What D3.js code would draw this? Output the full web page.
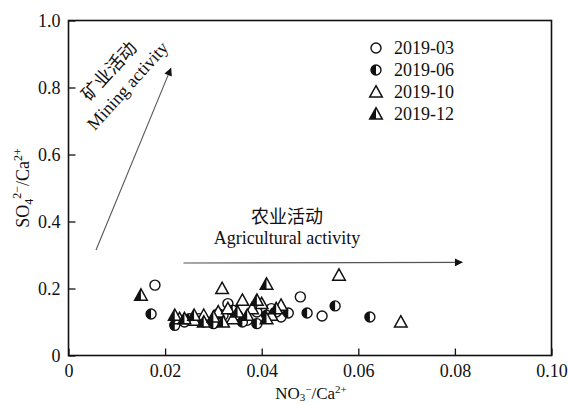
<!DOCTYPE html><meta charset="utf-8">
<style>*{margin:0}body{background:#fff}svg text{font-family:"Liberation Serif","Times New Roman","DejaVu Serif",serif;fill:#111}svg text.cjk{font-family:"Noto Sans CJK SC",sans-serif}</style>
<svg width="568" height="405"></svg>
<script src="https://d3js.org/d3.v7.min.js"></script>
<script>
// NO3-/Ca2+ vs SO4 2-/Ca2+ by sampling campaign
const series = ["2019-03","2019-06","2019-10","2019-12"];
const mar = [[0.0179,0.21],[0.048,0.175],[0.0525,0.118],[0.024,0.10],[0.027,0.11],[0.030,0.10],
  [0.033,0.155],[0.035,0.12],[0.037,0.105],[0.039,0.13],[0.042,0.14],[0.044,0.115],[0.031,0.125]];
const jun = [[0.0171,0.124],[0.0494,0.127],[0.0552,0.148],[0.0624,0.115],[0.0455,0.127],[0.022,0.09],
  [0.025,0.11],[0.028,0.10],[0.030,0.095],[0.032,0.12],[0.034,0.135],[0.036,0.10],[0.039,0.095],
  [0.041,0.12],[0.043,0.13]];
const oct = [[0.0318,0.20],[0.056,0.24],[0.0688,0.10],[0.023,0.11],[0.026,0.105],[0.028,0.12],
  [0.031,0.13],[0.033,0.14],[0.036,0.165],[0.038,0.14],[0.040,0.155],[0.042,0.12],[0.044,0.15],[0.034,0.11]];
const dec = [[0.015,0.18],[0.041,0.213],[0.022,0.12],[0.024,0.11],[0.026,0.12],[0.028,0.10],
  [0.030,0.115],[0.032,0.10],[0.035,0.13],[0.037,0.12],[0.039,0.165],[0.041,0.11],[0.043,0.14]];
const xTicks = [0,0.02,0.04,0.06,0.08,0.10], xTickLabels = ["0","0.02","0.04","0.06","0.08","0.10"];
const yTicks = [0,0.2,0.4,0.6,0.8,1.0], yTickLabels = ["0","0.2","0.4","0.6","0.8","1.0"];

const svg = d3.select("svg");
const x = d3.scaleLinear().domain([0,0.10]).range([68.5,551.5]),
      y = d3.scaleLinear().domain([0,1]).range([355.5,20.5]);

svg.append("rect").attr("x",x(0)).attr("y",y(1)).attr("width",x(0.1)-x(0)).attr("height",y(0)-y(1))
   .attr("fill","none").attr("stroke","#111").attr("stroke-width",1.6);

const xa = svg.append("g").attr("transform",`translate(0,${y(0)})`)
   .call(d3.axisBottom(x).tickValues(xTicks).tickFormat((d,i)=>xTickLabels[i]).tickSizeInner(-7).tickSizeOuter(0).tickPadding(9));
const ya = svg.append("g").attr("transform",`translate(${x(0)},0)`)
   .call(d3.axisLeft(y).tickValues(yTicks).tickFormat((d,i)=>yTickLabels[i]).tickSizeInner(-7).tickSizeOuter(0).tickPadding(8));
[xa,ya].forEach(a=>{
  a.attr("font-family",null).attr("font-size",null);
  a.select(".domain").remove();
  a.selectAll("line").attr("stroke","#111").attr("stroke-width",1.3);
  a.selectAll("text").attr("font-size",18).attr("fill","#111");
});

// axis titles
const xt = svg.append("text").attr("x",311).attr("y",399).attr("text-anchor","middle").attr("font-size",17);
xt.append("tspan").text("NO");
xt.append("tspan").attr("font-size",11).attr("dy",2).text("3");
xt.append("tspan").attr("font-size",11).attr("dy",-8).text("−");
xt.append("tspan").attr("dy",6).text("/Ca");
xt.append("tspan").attr("font-size",11).attr("dy",-6).text("2+");
const yt = svg.append("text").attr("transform","translate(29,188) rotate(-90)").attr("text-anchor","middle").attr("font-size",18);
yt.append("tspan").text("SO");
yt.append("tspan").attr("font-size",12).attr("dy",4).text("4");
yt.append("tspan").attr("font-size",12).attr("dy",-12).text("2−");
yt.append("tspan").attr("dy",8).text("/Ca");
yt.append("tspan").attr("font-size",12).attr("dy",-7).text("2+");

// arrows
svg.append("defs").append("marker").attr("id","ah").attr("viewBox","0 0 10 10").attr("refX",9).attr("refY",5)
   .attr("markerWidth",14).attr("markerHeight",8).attr("markerUnits","userSpaceOnUse").attr("orient","auto")
   .append("path").attr("d","M0,0L10,5L0,10Z").attr("fill","#111");
const arrows = [[[0.0057,0.315],[0.0212,0.857]],[[0.0238,0.276],[0.0815,0.278]]];
arrows.forEach(a=>svg.append("line").attr("x1",x(a[0][0])).attr("y1",y(a[0][1])).attr("x2",x(a[1][0])).attr("y2",y(a[1][1]))
   .attr("stroke","#555").attr("stroke-width",1.1).attr("marker-end","url(#ah)"));

svg.append("text").attr("class","cjk").attr("x",287).attr("y",223).attr("text-anchor","middle").attr("font-size",18).text("农业活动");
svg.append("text").attr("x",287).attr("y",244).attr("text-anchor","middle").attr("font-size",18).text("Agricultural activity");
svg.append("text").attr("class","cjk").attr("transform","translate(110,72) rotate(-48)").attr("text-anchor","middle")
   .attr("dominant-baseline","middle").attr("font-size",18).text("矿业活动");
svg.append("text").attr("transform","translate(129,87) rotate(-48)").attr("text-anchor","middle").attr("dominant-baseline","middle")
   .attr("font-size",18).text("Mining activity");

// markers
const R = 5, T = 6.3;
function mark(g, type){
  if(type===0) g.append("circle").attr("r",R).attr("fill","#fff").attr("stroke","#111").attr("stroke-width",1.4);
  if(type===1){
    g.append("circle").attr("r",R).attr("fill","#fff").attr("stroke","#111").attr("stroke-width",1.4);
    g.append("path").attr("d",`M0,${-R}A${R},${R} 0 0 0 0,${R}Z`).attr("fill","#111");
  }
  if(type>=2){
    g.append("path").attr("d",`M0,${-T}L${T},${T*0.8}L${-T},${T*0.8}Z`).attr("fill","#fff").attr("stroke","#111")
     .attr("stroke-width",1.5).attr("stroke-linejoin","miter");
    if(type===3) g.append("path").attr("d",`M0,${-T}L0,${T*0.8}L${-T},${T*0.8}Z`).attr("fill","#111");
  }
}
[mar,jun,oct,dec].forEach((data,k)=>{
  svg.append("g").selectAll("g").data(data).join("g")
     .attr("transform",d=>`translate(${x(d[0])},${y(d[1])})`)
     .each(function(){ mark(d3.select(this),k); });
});

// legend
const lg = svg.append("g").attr("transform","translate(376,48)");
series.forEach((s,i)=>{
  const r = lg.append("g").attr("transform",`translate(0,${i*22})`);
  mark(r.append("g"), i);
  r.append("text").attr("x",18).attr("y",6).attr("font-size",18).text(s);
});
</script>
